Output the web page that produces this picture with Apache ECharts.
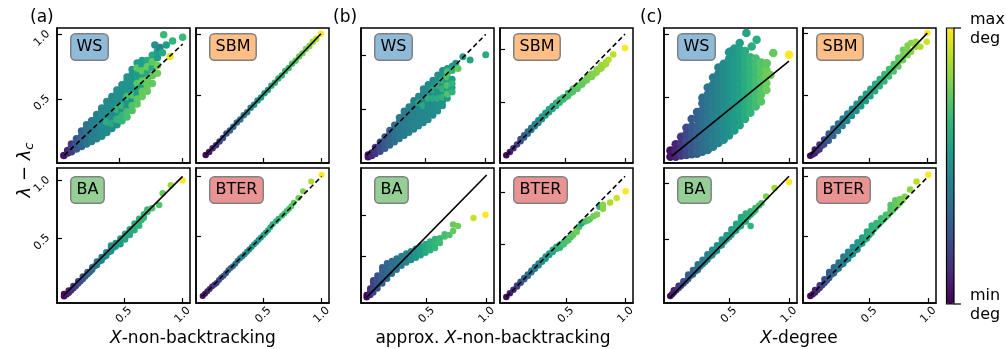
<!DOCTYPE html>
<html><head><meta charset="utf-8">
<script src="https://cdn.jsdelivr.net/npm/echarts@6/dist/echarts.min.js"></script>
<style>html,body{margin:0;padding:0;background:#fff}#c{width:1006px;height:349px}</style>
</head><body><div id="c"></div>
<script>
// ---------------- data ----------------
const tickValues = [0.5, 1.0];
const groupLetters = ['(a)', '(b)', '(c)'];
const modelNames = ['WS', 'SBM', 'BA', 'BTER'];
// rows: [x, colour value (0 = min deg, 1 = max deg), y1, y2, ...]
const aWS = [
[0.06,0.05,0.06],[0.09,0.1,0.08,0.1],[0.12,0.18,0.09,0.12,0.15],[0.16,0.27,0.11,0.15,0.19],
[0.2,0.33,0.13,0.17,0.21,0.25],[0.24,0.38,0.15,0.19,0.23,0.27,0.3],[0.28,0.42,0.17,0.21,0.25,0.29,0.33],
[0.32,0.44,0.19,0.23,0.27,0.31,0.35,0.38],[0.36,0.47,0.21,0.25,0.29,0.33,0.37,0.41,0.43],
[0.4,0.48,0.24,0.28,0.36,0.4,0.44,0.48],[0.4,0.62,0.32],[0.44,0.48,0.27,0.35,0.39,0.43,0.47,0.52],[0.44,0.6,0.31],
[0.48,0.5,0.3,0.38,0.46,0.5,0.54,0.57],[0.48,0.65,0.34,0.42],[0.52,0.5,0.41,0.49,0.53,0.57,0.61],[0.52,0.66,0.33,0.37,0.45],
[0.56,0.52,0.44,0.48,0.56,0.6,0.64,0.67],[0.56,0.7,0.36,0.4,0.52],[0.6,0.52,0.49,0.57,0.61,0.65,0.69,0.73],[0.6,0.72,0.41,0.45,0.53],
[0.64,0.55,0.54,0.58,0.66,0.7,0.78],[0.64,0.74,0.46,0.5,0.62,0.74],[0.68,0.56,0.6,0.68,0.76,0.8],[0.68,0.76,0.52,0.56,0.64,0.72],
[0.72,0.6,0.7,0.8],[0.72,0.76,0.56,0.6,0.65,0.75],[0.76,0.6,0.74,0.84],[0.76,0.75,0.62,0.68,0.79],
[0.8,0.55,0.87,0.82],[0.8,0.78,0.7,0.76],
[0.82,0.45,0.9],[0.84,0.6,0.86],[0.85,0.68,1.0],[0.87,0.55,0.92],[0.9,0.97,0.83],[0.92,0.65,0.95],[1.0,0.68,0.98],[0.78,0.5,0.92]
];
const aSBM = [
[0.0,0.02,0.01],[0.03,0.06,0.035],[0.06,0.1,0.065],[0.09,0.14,0.09],[0.12,0.18,0.12],[0.15,0.22,0.15],[0.18,0.26,0.185],
[0.21,0.3,0.21],[0.24,0.33,0.24],[0.27,0.36,0.275],[0.3,0.4,0.3],[0.33,0.42,0.335],[0.36,0.45,0.36],[0.39,0.47,0.395],
[0.42,0.5,0.42],[0.45,0.52,0.455],[0.48,0.54,0.48],[0.51,0.56,0.515],[0.54,0.58,0.54],[0.57,0.6,0.575],[0.6,0.62,0.6],
[0.63,0.64,0.635],[0.66,0.66,0.66],[0.69,0.68,0.695],[0.72,0.7,0.72],[0.75,0.72,0.755],[0.78,0.74,0.78],[0.81,0.76,0.815],
[0.84,0.78,0.84],[0.87,0.8,0.875],[0.9,0.82,0.9],[0.93,0.85,0.935],[0.96,0.9,0.96],[1.0,1.0,1.0]
];
const aBA = [
[-0.01,0.02,0.0,0.02],[0.01,0.05,0.015],[0.03,0.08,0.03,0.05],[0.05,0.11,0.05],[0.07,0.14,0.07,0.09],[0.09,0.17,0.09],
[0.11,0.2,0.11,0.13],[0.13,0.23,0.13],[0.15,0.26,0.15,0.17],[0.17,0.28,0.17],
[0.19,0.31,0.19,0.21],[0.21,0.33,0.21],[0.23,0.36,0.23,0.25],[0.25,0.38,0.26],[0.27,0.4,0.27,0.3],[0.29,0.42,0.3],
[0.31,0.44,0.31,0.34],[0.33,0.46,0.34],[0.35,0.48,0.35,0.38],[0.37,0.49,0.38],
[0.39,0.5,0.39,0.42,0.44],[0.41,0.51,0.42],[0.43,0.52,0.43,0.46],[0.45,0.54,0.46],[0.47,0.55,0.47,0.5,0.45],[0.49,0.57,0.5],
[0.51,0.58,0.51,0.54,0.49],[0.53,0.59,0.54],[0.55,0.6,0.55,0.58,0.53],[0.57,0.61,0.58],[0.59,0.62,0.6,0.63,0.57],[0.61,0.63,0.62],
[0.63,0.64,0.64,0.67,0.61],[0.65,0.65,0.66],[0.67,0.66,0.68,0.71],[0.7,0.68,0.73,0.75],[0.74,0.7,0.76],[0.8,0.72,0.79],
[0.83,0.76,0.89],[0.9,0.85,0.96],[1.0,1.0,1.0]
];
const aBTER = [
[-0.02,0.02,0.0],[0.0,0.05,0.02],[0.02,0.07,0.04],[0.04,0.1,0.06],[0.06,0.12,0.08],[0.08,0.15,0.095],[0.1,0.18,0.11],
[0.12,0.2,0.135],[0.14,0.23,0.155],[0.16,0.26,0.17],[0.18,0.28,0.19],[0.2,0.31,0.215],[0.22,0.33,0.235],[0.24,0.35,0.25],
[0.26,0.37,0.27],[0.28,0.39,0.295],[0.3,0.41,0.315],[0.32,0.43,0.33],[0.34,0.45,0.35],[0.36,0.47,0.37],[0.38,0.48,0.39],
[0.4,0.5,0.41],[0.42,0.51,0.43],[0.44,0.53,0.45],[0.46,0.54,0.47],[0.48,0.56,0.49],[0.5,0.58,0.51],[0.52,0.59,0.53],
[0.54,0.6,0.55],[0.56,0.62,0.575],[0.58,0.63,0.6],[0.61,0.65,0.625],[0.63,0.66,0.645],[0.66,0.68,0.67],[0.68,0.69,0.69],
[0.7,0.7,0.71],[0.72,0.72,0.73],[0.74,0.73,0.75],[0.76,0.75,0.78],[0.8,0.78,0.82],[0.84,0.8,0.875],[0.91,0.88,0.958],[1.0,1.0,1.014]
];
const bWS = [
[0.02,0.05,0.05,0.07],[0.05,0.1,0.06,0.09],[0.08,0.15,0.08,0.11,0.14],[0.12,0.22,0.1,0.13,0.16,0.19],
[0.16,0.28,0.13,0.17,0.21,0.24],[0.2,0.32,0.16,0.2,0.24,0.27,0.3],[0.24,0.36,0.19,0.23,0.27,0.31,0.35],
[0.28,0.4,0.22,0.26,0.3,0.34,0.38,0.42],[0.32,0.42,0.25,0.29,0.33,0.37,0.41,0.45,0.48],
[0.36,0.44,0.28,0.32,0.36,0.4,0.44,0.48,0.52],[0.4,0.45,0.31,0.35,0.39,0.43,0.47,0.51,0.55,0.58],
[0.44,0.46,0.34,0.38,0.42,0.46,0.5,0.54,0.58,0.62],[0.44,0.58,0.56],
[0.48,0.46,0.37,0.41,0.45,0.49,0.57,0.61,0.65,0.69],[0.48,0.6,0.53],
[0.52,0.48,0.4,0.44,0.48,0.52,0.56,0.64,0.68,0.73],[0.52,0.62,0.6],
[0.56,0.48,0.44,0.48,0.52,0.56,0.64,0.72,0.77],[0.56,0.6,0.6,0.68],
[0.6,0.5,0.48,0.52,0.56,0.64,0.68,0.76,0.82],[0.6,0.62,0.6,0.72],
[0.64,0.5,0.53,0.57,0.65,0.73,0.81,0.86],[0.64,0.65,0.61,0.69,0.77],
[0.68,0.55,0.6,0.68,0.76,0.84,0.88],[0.68,0.72,0.64,0.72,0.8,0.85],
[0.72,0.55,0.7,0.78,0.9],[0.72,0.65,0.66,0.74,0.86],
[0.75,0.5,0.93],[0.77,0.75,0.88],[0.81,0.55,0.99],[0.87,0.58,0.96],[1.0,0.6,1.01]
];
const bSBM = [
[0.0,0.02,0.01],[0.03,0.06,0.04],[0.06,0.12,0.075],[0.09,0.18,0.11],[0.12,0.24,0.14,0.16],[0.15,0.3,0.175,0.195],
[0.18,0.35,0.21,0.23],[0.21,0.4,0.245,0.265],[0.24,0.44,0.28,0.3],[0.27,0.48,0.31,0.335],[0.3,0.52,0.345,0.37],
[0.33,0.55,0.38,0.405],[0.36,0.58,0.41,0.44],[0.39,0.6,0.44,0.47],[0.42,0.63,0.47,0.5],[0.45,0.66,0.5,0.53],
[0.48,0.68,0.53,0.55],[0.5,0.69,0.55],[0.52,0.7,0.56,0.59],[0.54,0.71,0.59],[0.56,0.72,0.6,0.63],[0.58,0.73,0.63],
[0.6,0.74,0.63,0.66],[0.62,0.75,0.66],[0.64,0.76,0.67,0.7],[0.66,0.77,0.7],
[0.68,0.78,0.71,0.74],[0.7,0.79,0.74],[0.72,0.8,0.74,0.77],[0.74,0.81,0.77],[0.76,0.82,0.78,0.81],[0.78,0.83,0.81],
[0.8,0.84,0.82,0.85],[0.82,0.85,0.85],[0.84,0.86,0.86,0.88],[0.86,0.88,0.9],[0.9,0.9,0.95],[1.0,1.0,1.01]
];
const bBA = [
[0.0,0.02,-0.01,0.02],[0.03,0.12,0.02,0.06,0.1],[0.055,0.2,0.05,0.09,0.13,0.17,0.2],
[0.09,0.25,0.1,0.14,0.18,0.22,0.26],[0.13,0.3,0.16,0.2,0.24,0.28,0.32,0.36],
[0.17,0.33,0.22,0.26,0.3,0.34,0.38,0.41],[0.21,0.36,0.28,0.32,0.36,0.4,0.44],
[0.25,0.39,0.33,0.37,0.41,0.45,0.47],[0.29,0.42,0.38,0.42,0.46,0.5],[0.33,0.45,0.42,0.46,0.5,0.53],
[0.37,0.48,0.45,0.49,0.53,0.56],[0.41,0.52,0.48,0.52,0.56,0.59],[0.45,0.56,0.51,0.55,0.59,0.62],
[0.49,0.6,0.54,0.58,0.62,0.65],[0.53,0.63,0.57,0.61,0.65,0.68],[0.57,0.66,0.6,0.64,0.68,0.71],
[0.61,0.68,0.66,0.72],[0.65,0.7,0.74,0.77],[0.69,0.72,0.76],[0.72,0.76,0.81,0.89],[0.76,0.78,0.87],
[0.89,0.92,0.97],[0.99,1.0,1.01]
];
const bBTER = [
[0.0,0.02,0.0],[0.03,0.07,0.035],[0.06,0.12,0.07],[0.09,0.18,0.1,0.11],[0.12,0.24,0.135,0.145],[0.15,0.3,0.17,0.18],
[0.18,0.35,0.2,0.215],[0.21,0.4,0.235,0.25],[0.24,0.43,0.27,0.285],[0.27,0.46,0.3,0.32],[0.3,0.5,0.335,0.35],
[0.33,0.53,0.365,0.385],[0.36,0.56,0.4,0.415],[0.39,0.6,0.43,0.45],[0.42,0.63,0.46,0.48],[0.45,0.66,0.47,0.5],
[0.48,0.7,0.5,0.52],[0.5,0.71,0.53],[0.52,0.72,0.54,0.56],[0.54,0.73,0.57],[0.56,0.75,0.59,0.6],[0.59,0.78,0.62,0.64],
[0.61,0.7,0.67],[0.63,0.6,0.7],[0.66,0.7,0.72],[0.68,0.72,0.73],
[0.7,0.75,0.74],[0.73,0.78,0.77],[0.76,0.8,0.785],[0.78,0.62,0.86],[0.81,0.82,0.88,0.84],[0.87,0.88,0.9],[0.925,0.92,0.944],[1.0,1.0,1.007]
];
const cWS = [
[0.11,0.05,0.03,0.08],[0.15,0.1,0.03,0.08,0.13],[0.19,0.16,0.04,0.09,0.14,0.19],
[0.23,0.22,0.045,0.1,0.155,0.21,0.26],[0.27,0.27,0.05,0.105,0.16,0.215,0.27,0.33],
[0.31,0.31,0.055,0.11,0.165,0.22,0.275,0.33,0.385],
[0.35,0.35,0.07,0.125,0.18,0.235,0.29,0.345,0.4,0.455,0.5],
[0.39,0.39,0.085,0.14,0.195,0.25,0.305,0.36,0.415,0.47,0.525,0.58],
[0.43,0.42,0.11,0.165,0.22,0.275,0.33,0.385,0.44,0.495,0.55,0.605,0.66],
[0.47,0.45,0.14,0.195,0.25,0.305,0.36,0.415,0.47,0.525,0.58,0.635,0.69,0.74],
[0.51,0.48,0.165,0.22,0.275,0.33,0.385,0.44,0.495,0.55,0.605,0.66,0.715,0.77],
[0.55,0.51,0.2,0.255,0.31,0.365,0.42,0.475,0.53,0.585,0.64,0.695,0.75,0.805,0.86],
[0.59,0.54,0.24,0.295,0.35,0.405,0.46,0.515,0.57,0.625,0.68,0.735,0.79,0.845,0.89],
[0.63,0.57,0.28,0.335,0.39,0.445,0.5,0.555,0.61,0.665,0.72,0.775,0.83,0.88],
[0.67,0.61,0.33,0.385,0.44,0.495,0.55,0.605,0.66,0.715,0.77,0.825,0.87],
[0.71,0.65,0.38,0.435,0.49,0.545,0.6,0.655,0.71,0.765,0.82],
[0.75,0.69,0.43,0.485,0.54,0.595,0.65,0.705,0.76,0.81],
[0.79,0.73,0.47,0.525,0.58,0.635,0.69,0.745,0.78],
[0.83,0.77,0.56,0.615,0.67,0.72],
[0.56,0.52,0.867],[0.63,0.56,0.934],[0.68,0.58,1.013],[0.72,0.62,0.907],[0.757,0.62,0.96],
[0.833,0.74,0.774],[0.882,0.76,0.854],[0.86,0.78,0.68],[1.0,1.0,0.84]
];
const cSBM = [
[-0.01,0.02,0.01],[0.01,0.05,0.02],[0.03,0.08,0.03,0.06],[0.05,0.12,0.05],[0.07,0.15,0.06,0.1],[0.09,0.19,0.09],
[0.11,0.22,0.1,0.14],[0.13,0.25,0.13],[0.15,0.28,0.13,0.17,0.19],[0.17,0.31,0.18],
[0.19,0.33,0.17,0.21,0.23],[0.21,0.36,0.22],[0.23,0.38,0.21,0.25,0.27],[0.25,0.4,0.26],[0.27,0.42,0.25,0.29,0.31],[0.29,0.44,0.3],
[0.31,0.45,0.29,0.33,0.35],[0.33,0.47,0.34],[0.35,0.48,0.33,0.37,0.39],[0.37,0.49,0.38],
[0.39,0.5,0.37,0.41,0.43],[0.41,0.52,0.42],[0.43,0.53,0.41,0.45,0.47],[0.45,0.54,0.46],[0.47,0.55,0.45,0.49,0.51],[0.49,0.57,0.5],
[0.51,0.58,0.49,0.53,0.55],[0.53,0.59,0.54],[0.55,0.6,0.53,0.57,0.59],[0.57,0.62,0.58],[0.59,0.63,0.57,0.61,0.63],[0.61,0.65,0.62],
[0.63,0.66,0.61,0.65,0.67],[0.65,0.68,0.66],
[0.67,0.69,0.65,0.69,0.71],[0.69,0.7,0.7],[0.71,0.72,0.69,0.73,0.75],[0.73,0.74,0.74],[0.75,0.75,0.73,0.77,0.8],[0.77,0.77,0.78],
[0.79,0.78,0.78,0.82,0.865],[0.81,0.79,0.83],
[0.83,0.8,0.82,0.86,0.9],[0.86,0.82,0.92,0.85],[0.9,0.85,0.89,0.93],[0.94,0.88,0.89],[0.995,0.92,0.93],[1.0,1.0,1.0]
];
const cBA = [
[0.01,0.02,0.0],[0.025,0.05,0.015],[0.04,0.08,0.03,0.05],[0.06,0.11,0.05],[0.08,0.15,0.07,0.09],[0.1,0.18,0.09],
[0.12,0.22,0.11,0.13],[0.14,0.25,0.13],[0.16,0.28,0.15,0.17,0.19],[0.18,0.3,0.18],
[0.2,0.33,0.19,0.21,0.23],[0.22,0.35,0.22],[0.24,0.38,0.23,0.26,0.28],[0.26,0.4,0.26],[0.28,0.42,0.28,0.3,0.32],[0.3,0.43,0.3],
[0.32,0.45,0.32,0.34,0.37],[0.34,0.46,0.35],[0.36,0.48,0.36,0.39,0.41],[0.38,0.49,0.39],
[0.4,0.5,0.4,0.43,0.45],[0.42,0.51,0.44],[0.44,0.52,0.45,0.47,0.5],[0.46,0.53,0.48],[0.48,0.54,0.5,0.52,0.54],[0.5,0.55,0.52],
[0.52,0.56,0.54,0.56,0.59],[0.54,0.57,0.57],[0.56,0.58,0.58,0.61,0.64],[0.58,0.59,0.61],[0.6,0.6,0.62,0.65,0.68,0.7],[0.62,0.61,0.66],
[0.64,0.62,0.66,0.7,0.73],[0.66,0.63,0.7],
[0.68,0.64,0.62,0.72,0.75],[0.7,0.66,0.74],[0.72,0.68,0.76,0.78],[0.75,0.7,0.8],[0.77,0.72,0.82],[0.81,0.8,0.88],[0.88,0.85,0.957],[1.0,1.0,1.01]
];
const cBTER = [
[0.0,0.02,0.0],[0.02,0.05,0.015],[0.04,0.08,0.03,0.05],[0.06,0.12,0.05],[0.08,0.15,0.07,0.09],[0.1,0.18,0.09],
[0.12,0.22,0.11,0.14],[0.14,0.25,0.13],[0.16,0.28,0.15,0.18,0.2],[0.18,0.3,0.18],
[0.2,0.33,0.19,0.22,0.24],[0.22,0.36,0.22],[0.24,0.38,0.23,0.26,0.28],[0.26,0.4,0.26],[0.28,0.42,0.27,0.3,0.33],[0.3,0.44,0.3],
[0.32,0.46,0.31,0.34,0.37],[0.34,0.48,0.34],[0.36,0.5,0.35,0.38,0.41],[0.38,0.51,0.38],
[0.4,0.52,0.39,0.42,0.45],[0.42,0.54,0.43],[0.44,0.56,0.44,0.47,0.49],[0.46,0.58,0.47],[0.48,0.6,0.48,0.51,0.54],[0.5,0.62,0.51],
[0.52,0.64,0.53,0.56,0.59],[0.54,0.65,0.56],[0.56,0.66,0.58,0.61],[0.58,0.67,0.6],[0.6,0.68,0.62,0.65],[0.62,0.69,0.64],
[0.64,0.7,0.66,0.68],[0.66,0.71,0.68],[0.68,0.72,0.7,0.73,0.76],[0.7,0.73,0.72],
[0.72,0.75,0.74,0.77,0.8],[0.74,0.76,0.76],[0.76,0.78,0.78,0.81],[0.78,0.79,0.8],[0.8,0.8,0.83],[0.845,0.82,0.89],[0.9,0.9,0.958],[1.0,1.0,1.014]
];
// reference lines [[x0,y0],[x1,y1]]
const aWSLine = [[0.064,0.062],[1.0,0.927]];
const aSBMLine = [[0.0,0.01],[1.0,1.0]];
const aBALine = [[-0.017,0.003],[1.0,1.037]];
const aBTERLine = [[-0.02,0.0],[1.0,1.0]];
const bWSLine = [[0.008,0.066],[1.0,1.2]];
const bSBMLine = [[0.0,0.01],[1.0,1.14]];
const bBALine = [[0.0,-0.01],[1.0,1.5]];
const bBTERLine = [[0.0,0.0],[0.995,1.15]];
const cWSLine = [[0.12,0.036],[1.0,0.79]];
const cSBMLine = [[-0.011,0.014],[1.0,1.0]];
const cBALine = [[0.008,-0.014],[1.0,1.06]];
const cBTERLine = [[0.0,0.0],[0.986,0.987]];
// axis limits [xmin, xmax, ymin, ymax]
const aWSLim = [0.006,1.058,0.002,1.052];
const aSBMLim = [-0.084,1.07,-0.055,1.047];
const aBALim = [-0.07,1.063,-0.058,1.109];
const aBTERLim = [-0.077,1.063,-0.058,1.07];
const bWSLim = [-0.039,1.069,-0.007,1.26];
const bSBMLim = [-0.053,1.067,-0.063,1.197];
const bBALim = [-0.047,1.061,-0.08,1.587];
const bBTERLim = [-0.053,1.062,-0.057,1.229];
const cWSLim = [0.062,1.06,-0.019,1.053];
const cSBMLim = [-0.072,1.075,-0.049,1.041];
const cBALim = [-0.042,1.067,-0.062,1.133];
const cBTERLim = [-0.062,1.065,-0.058,1.07];

// ---------------- layout / style ----------------
const FONT = 'DejaVu Sans';
const lefts = [57, 196, 361, 500, 664, 803], tops = [28, 168], PW = 133, PH = 135;
const boxColors = {WS:'#8fbbd9', SBM:'#ffbf86', BA:'#95cf95', BTER:'#ea9393'};
const viridis = ['#440154','#482878','#3e4a89','#31688e','#26828e','#1f9e89','#35b779','#6ece58','#b5de2b','#fde725'];

const panels = [
 {rows:aWS, line:aWSLine, lim:aWSLim, dash:true, g:0, col:0, row:0, size:7.5},
 {rows:aSBM, line:aSBMLine, lim:aSBMLim, dash:false, g:0, col:1, row:0, size:6.5},
 {rows:aBA, line:aBALine, lim:aBALim, dash:false, g:0, col:0, row:1, size:6.5},
 {rows:aBTER, line:aBTERLine, lim:aBTERLim, dash:true, g:0, col:1, row:1, size:6},
 {rows:bWS, line:bWSLine, lim:bWSLim, dash:true, g:1, col:0, row:0, size:7},
 {rows:bSBM, line:bSBMLine, lim:bSBMLim, dash:true, g:1, col:1, row:0, size:6.5},
 {rows:bBA, line:bBALine, lim:bBALim, dash:false, g:1, col:0, row:1, size:6.5},
 {rows:bBTER, line:bBTERLine, lim:bBTERLim, dash:true, g:1, col:1, row:1, size:6.5},
 {rows:cWS, line:cWSLine, lim:cWSLim, dash:false, g:2, col:0, row:0, size:8.5},
 {rows:cSBM, line:cSBMLine, lim:cSBMLim, dash:false, g:2, col:1, row:0, size:6.5},
 {rows:cBA, line:cBALine, lim:cBALim, dash:false, g:2, col:0, row:1, size:6.5},
 {rows:cBTER, line:cBTERLine, lim:cBTERLim, dash:true, g:2, col:1, row:1, size:6.5}
];

function expand(rows) {
  const out = [];
  rows.forEach(r => { for (let k = 2; k < r.length; k++) out.push([r[0], r[k], r[1]]); });
  return out;
}

const grid = [], xAxis = [], yAxis = [], series = [], lineSeries = [], graphic = [];
const labelBase = {customValues: tickValues, formatter: v => v.toFixed(1), rotate: 45, align: 'center',
  fontSize: 11, color: '#000', fontFamily: FONT};
panels.forEach((p, i) => {
  const left = lefts[p.g * 2 + p.col], top = tops[p.row];
  grid.push({left: left, top: top, width: PW, height: PH, show: true, borderColor: '#000', borderWidth: 1.5, backgroundColor: 'transparent'});
  const tick = {show: true, inside: true, length: 5, customValues: tickValues, lineStyle: {color: '#000', width: 1.2}};
  xAxis.push({type: 'value', gridIndex: i, min: p.lim[0], max: p.lim[1], splitLine: {show: false},
    axisLine: {show: true, onZero: false, lineStyle: {color: '#000', width: 1.5}}, axisTick: tick,
    axisLabel: Object.assign({show: p.row === 1, margin: 12, verticalAlign: 'middle'}, labelBase)});
  yAxis.push({type: 'value', gridIndex: i, min: p.lim[2], max: p.lim[3], splitLine: {show: false},
    axisLine: {show: true, onZero: false, lineStyle: {color: '#000', width: 1.5}}, axisTick: tick,
    axisLabel: Object.assign({show: p.col === 0 && p.g === 0, margin: 19, verticalAlign: 'top'}, labelBase)});
  series.push({type: 'scatter', xAxisIndex: i, yAxisIndex: i, data: expand(p.rows), symbolSize: p.size,
    itemStyle: {opacity: 1}, z: 2, silent: true});
  lineSeries.push({type: 'line', xAxisIndex: i, yAxisIndex: i, data: p.line, symbol: 'none', z: 5, silent: true,
    lineStyle: {color: '#000', width: 1.6, type: p.dash ? [5, 3] : 'solid'}});
  const name = modelNames[p.row * 2 + p.col];
  graphic.push({type: 'text', left: left + 13, top: top + (p.row ? 8 : 5), z: 10,
    style: {text: name, fontSize: 16, fontFamily: FONT, fill: '#000', lineHeight: 19,
      backgroundColor: boxColors[name], borderColor: '#808080', borderWidth: 1.5, borderRadius: 4, padding: [3, 5, 3, 5]}});
});

[30, 333, 640].forEach((x, g) => graphic.push({type: 'text', x: x, y: 18,
  style: {text: groupLetters[g], fontSize: 17, fontFamily: FONT, fill: '#000', verticalAlign: 'middle', align: 'left'}}));

const xt = [{x: 193, t: '{i|X}-non-backtracking'}, {x: 493, t: 'approx. {i|X}-non-backtracking'}, {x: 799, t: '{i|X}-degree'}];
xt.forEach(o => graphic.push({type: 'text', x: o.x, y: 339,
  style: {text: o.t, fontSize: 17, fontFamily: FONT, fill: '#000', align: 'center', verticalAlign: 'middle',
    rich: {i: {fontSize: 17, fontStyle: 'italic', fontFamily: FONT, fill: '#000'}}}}));

graphic.push({type: 'text', x: 25, y: 170, rotation: Math.PI / 2,
  style: {text: '{l|λ} {m|−} {l|λ}{s|c}', align: 'center', verticalAlign: 'middle', fill: '#000', fontFamily: FONT, fontSize: 18,
    rich: {l: {fontSize: 18, fontStyle: 'italic', fontFamily: FONT, fill: '#000'},
           m: {fontSize: 18, fontFamily: FONT, fill: '#000'},
           s: {fontSize: 13, fontStyle: 'italic', fontFamily: FONT, fill: '#000', padding: [9, 0, 0, 0]}}}});

// colorbar frame, ticks and labels
graphic.push({type: 'rect', shape: {x: 946.5, y: 28, width: 7.5, height: 276}, z: 20,
  style: {fill: 'none', stroke: '#000', lineWidth: 1.2}});
graphic.push({type: 'line', shape: {x1: 954, y1: 28, x2: 961, y2: 28}, z: 20, style: {stroke: '#000', lineWidth: 1.2}});
graphic.push({type: 'line', shape: {x1: 954, y1: 304, x2: 961, y2: 304}, z: 20, style: {stroke: '#000', lineWidth: 1.2}});
graphic.push({type: 'text', x: 970, y: 10, style: {text: 'max\ndeg', fontSize: 16, lineHeight: 19, fontFamily: FONT, fill: '#000'}});
graphic.push({type: 'text', x: 970, y: 286, style: {text: 'min\ndeg', fontSize: 16, lineHeight: 19, fontFamily: FONT, fill: '#000'}});

const chart = echarts.init(document.getElementById('c'), null, {renderer: 'canvas'});
chart.setOption({
  animation: false,
  textStyle: {fontFamily: FONT},
  grid, xAxis, yAxis,
  visualMap: {type: 'continuous', min: 0, max: 1, dimension: 2, seriesIndex: panels.map((_, i) => i),
    inRange: {color: viridis}, orient: 'vertical', left: 946.5, top: 28, itemWidth: 7.5, itemHeight: 276,
    calculable: false, padding: 0, text: null, show: true, showLabel: false},
  series: series.concat(lineSeries),
  graphic
});
</script></body></html>
